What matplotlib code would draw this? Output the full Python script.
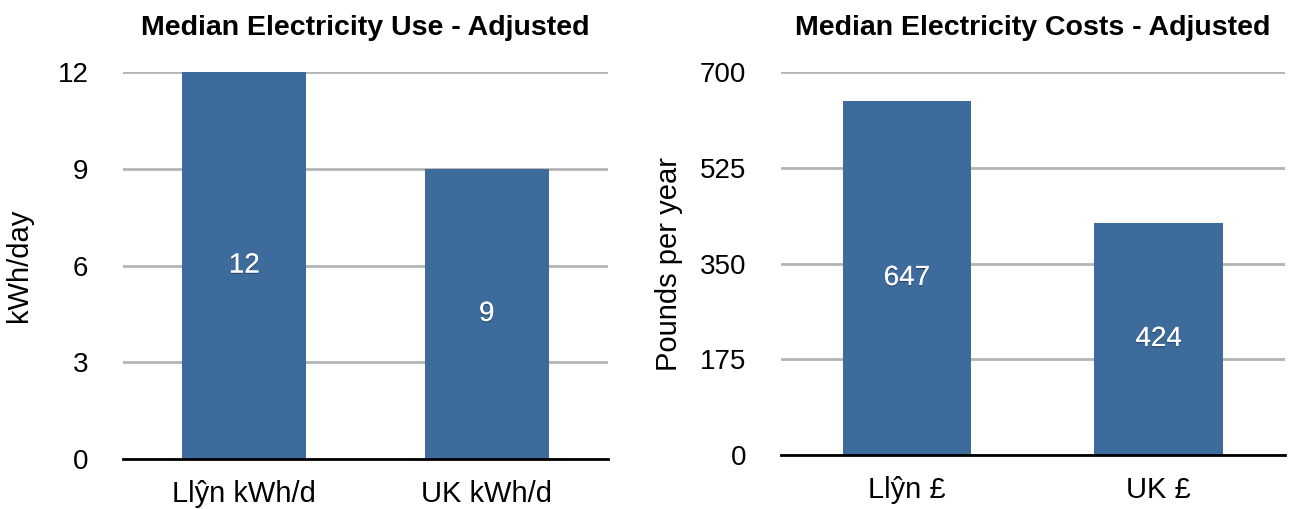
import matplotlib.pyplot as plt
import matplotlib.patheffects as pe

plt.rcParams['font.family'] = ['Liberation Sans', 'DejaVu Sans']

use_labels = ['Llŷn kWh/d', 'UK kWh/d']
use_values = [12, 9]
use_ticks = [0, 3, 6, 9, 12]

cost_labels = ['Llŷn £', 'UK £']
cost_values = [647, 424]
cost_ticks = [0, 175, 350, 525, 700]

bar_color = '#3d6b9b'

fig = plt.figure(figsize=(12.95, 5.09), dpi=100)
ax1 = fig.add_axes([0.095, 0.098, 0.3745, 0.7605])
ax2 = fig.add_axes([0.603, 0.106, 0.389, 0.7525])

def draw_panel(ax, labels, values, ticks, title, ylabel, ylab_x):
    x = range(len(labels))
    bars = ax.bar(x, values, width=0.51, color=bar_color, zorder=3)
    ax.set_xlim(-0.5, len(labels) - 0.5)
    ax.set_ylim(ticks[0], ticks[-1])
    ax.set_yticks(ticks)
    ax.set_xticks(list(x))
    ax.set_xticklabels(labels, fontsize=21)
    ax.tick_params(axis='y', labelsize=20, length=0, pad=25)
    ax.tick_params(axis='x', length=0, pad=15)
    ax.yaxis.grid(True, color='#b4b4b4', linewidth=2, zorder=0)
    for s in ['top', 'right', 'left']:
        ax.spines[s].set_visible(False)
    ax.spines['bottom'].set_linewidth(2)
    ax.spines['bottom'].set_zorder(4)
    # title placed in axes coords so it sits close to the top edge
    ax.text(0.5, 1.115, title, transform=ax.transAxes, ha='center', va='center',
            fontsize=20.5, fontweight='bold')
    ax.set_ylabel(ylabel, fontsize=21)
    ax.yaxis.set_label_coords(ylab_x, 0.5)
    shadow = [pe.withSimplePatchShadow(offset=(0, -1), shadow_rgbFace='#1a2a40', alpha=0.5), pe.Normal()]
    for b, v in zip(bars, values):
        t = ax.text(b.get_x() + b.get_width() / 2, v / 2, str(v), color='white',
                    fontsize=20, ha='center', va='center', zorder=5)
        t.set_path_effects(shadow)

draw_panel(ax1, use_labels, use_values, use_ticks, 'Median Electricity Use - Adjusted',
           'kWh/day', -0.186)
draw_panel(ax2, cost_labels, cost_values, cost_ticks, 'Median Electricity Costs - Adjusted',
           'Pounds per year', -0.194)

fig.savefig('out.png', dpi=100)
